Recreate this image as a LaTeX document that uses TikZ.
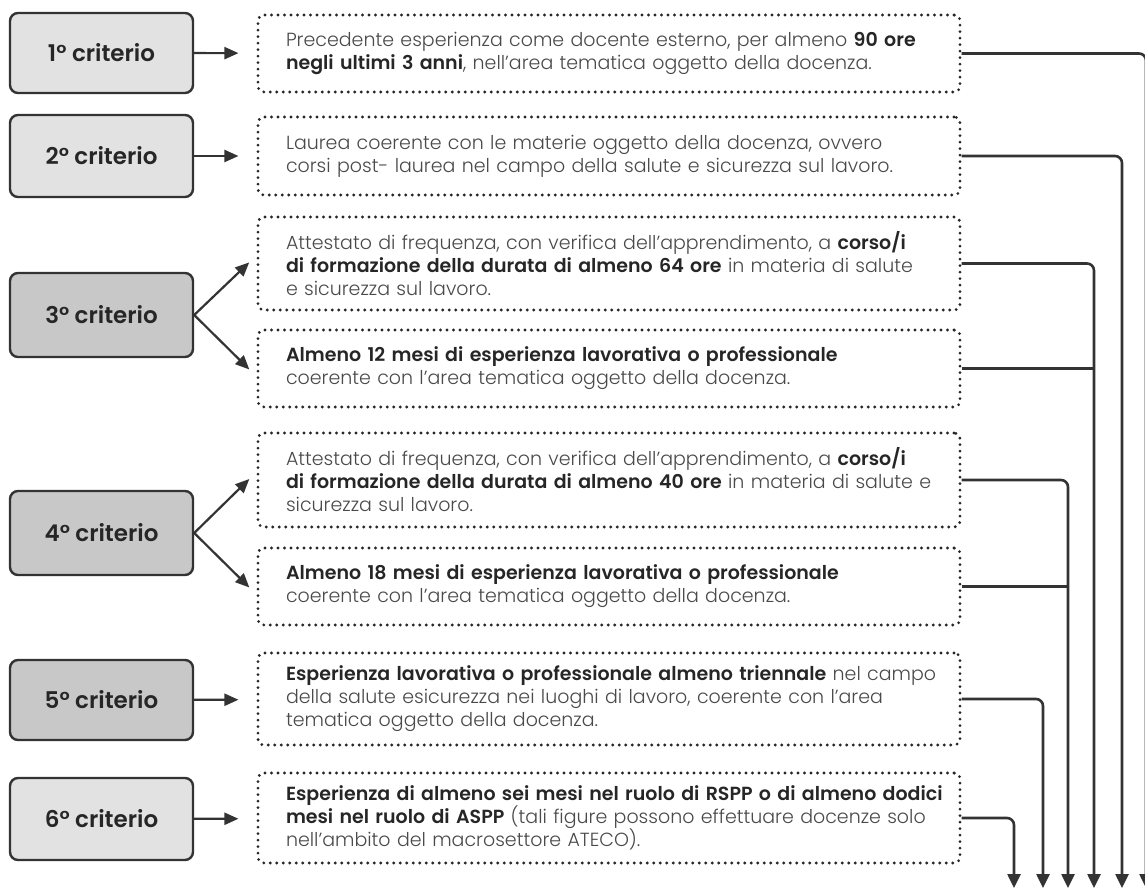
\documentclass[tikz,border=0pt]{standalone}
\usepackage{fontspec}
\setmainfont{Poppins}[UprightFont={Poppins Light},BoldFont={Poppins SemiBold}]
\usetikzlibrary{arrows.meta}

\definecolor{txtgray}{HTML}{4A4A4A}
\definecolor{boldgray}{HTML}{262626}
\definecolor{lightbox}{HTML}{E2E2E2}
\definecolor{darkbox}{HTML}{C8C8C8}
\definecolor{edgegray}{HTML}{333333}

\newcommand{\hl}[1]{{\bfseries\color{boldgray}#1}}

\begin{document}
\begin{tikzpicture}[x=1pt,y=-1pt,
  crit/.style={draw=edgegray,line width=2.4pt,rounded corners=8pt,minimum width=183pt,
    minimum height=80pt,font=\fontsize{23}{27}\selectfont\bfseries,text=boldgray},
  dbox/.style={draw=black!85,line width=3.1pt,dash pattern=on 0pt off 6.5pt,line cap=round,
    rounded corners=6pt,minimum width=702pt,text width=646pt,align=left,inner xsep=28pt,
    font=\fontsize{19}{23}\selectfont,text=txtgray},
  link/.style={draw=edgegray,line width=2.2pt,-{Triangle[length=14pt,width=12pt]},shorten >=18pt},
  split/.style={draw=edgegray,line width=2.2pt,-{Triangle[length=14pt,width=12pt]},shorten >=10pt},
  feed/.style={draw=edgegray,line width=2.6pt,rounded corners=7pt},
  down/.style={feed,-{Triangle[length=14pt,width=13pt]}}]
\fill[white] (0,0) rectangle (1145,890);
\useasboundingbox (0,0) rectangle (1145,890);
\clip (0,0) rectangle (1145,890);

\node[crit,fill=lightbox] (c1) at (101.5,53) {1° criterio};
\node[crit,fill=lightbox,minimum height=82pt] (c2) at (101.5,156) {2° criterio};
\node[crit,fill=darkbox,minimum height=84pt] (c3) at (101.5,315) {3° criterio};
\node[crit,fill=darkbox,minimum height=84pt] (c4) at (101.5,533) {4° criterio};
\node[crit,fill=darkbox] (c5) at (101.5,700) {5° criterio};
\node[crit,fill=lightbox,minimum height=82pt] (c6) at (101.5,819) {6° criterio};

\node[dbox,minimum height=77pt] (d1) at (609,53.5) {Precedente esperienza come docente esterno, per almeno \hl{90 ore}\\
  \hl{negli ultimi 3 anni}, nell’area tematica oggetto della docenza.};
\node[dbox,minimum height=78pt] (d2) at (609,156) {Laurea coerente con le materie oggetto della docenza, ovvero\\
  corsi post- laurea nel campo della salute e sicurezza sul lavoro.};
\node[dbox,minimum height=93pt] (d3a) at (609,263.5) {Attestato di frequenza, con verifica dell’apprendimento, a \hl{corso/i}\\
  \hl{di formazione della durata di almeno 64 ore} in materia di salute\\
  e sicurezza sul lavoro.};
\node[dbox,minimum height=77pt] (d3b) at (609,368.5) {\hl{Almeno 12 mesi di esperienza lavorativa o professionale}\\
  coerente con l’area tematica oggetto della docenza.};
\node[dbox,minimum height=94pt] (d4a) at (609,480) {Attestato di frequenza, con verifica dell’apprendimento, a \hl{corso/i}\\
  \hl{di formazione della durata di almeno 40 ore} in materia di salute e\\
  sicurezza sul lavoro.};
\node[dbox,minimum height=77pt] (d4b) at (609,586.5) {\hl{Almeno 18 mesi di esperienza lavorativa o professionale}\\
  coerente con l’area tematica oggetto della docenza.};
\node[dbox,minimum height=92pt] (d5) at (609,699) {\mbox{\hl{Esperienza lavorativa o professionale almeno triennale} nel campo}\\
  della salute esicurezza nei luoghi di lavoro, coerente con l’area\\
  tematica oggetto della docenza.};
\node[dbox,minimum height=90pt] (d6) at (609,818) {\mbox{\hl{Esperienza di almeno sei mesi nel ruolo di RSPP o di almeno dodici}}\\
  \hl{mesi nel ruolo di ASPP} (tali figure possono effettuare docenze solo\\
  nell’ambito del macrosettore ATECO).};

\draw[link] (c1) -- (d1);
\draw[link] (c2) -- (d2);
\draw[split] (c3.east) -- ([yshift=8pt]d3a.west);
\draw[split] (c3.east) -- ([yshift=-8pt]d3b.west);
\draw[split] (c4.east) -- ([yshift=8pt]d4a.west);
\draw[split] (c4.east) -- ([yshift=-8pt]d4b.west);
\draw[link] (c5) -- (d5);
\draw[link] (c6) -- (d6);

\coordinate (e1) at (1146,888);
\coordinate (e2) at (1122,888);
\coordinate (e3) at (1094,888);
\coordinate (e4) at (1068,888);
\coordinate (e5) at (1043,888);
\coordinate (e6) at (1014,888);

\draw[down] (d1.east) -| (e1);
\draw[down] (d2.east) -| (e2);
\draw[down] (d3a.east) -| (e3);
\draw[feed] (d3b.east) -- (d3b.east -| e3);
\draw[down] (d4a.east) -| (e4);
\draw[feed] (d4b.east) -- (d4b.east -| e4);
\draw[down] (d5.east) -| (e5);
\draw[down] (d6.east) -| (e6);
\end{tikzpicture}
\end{document}
